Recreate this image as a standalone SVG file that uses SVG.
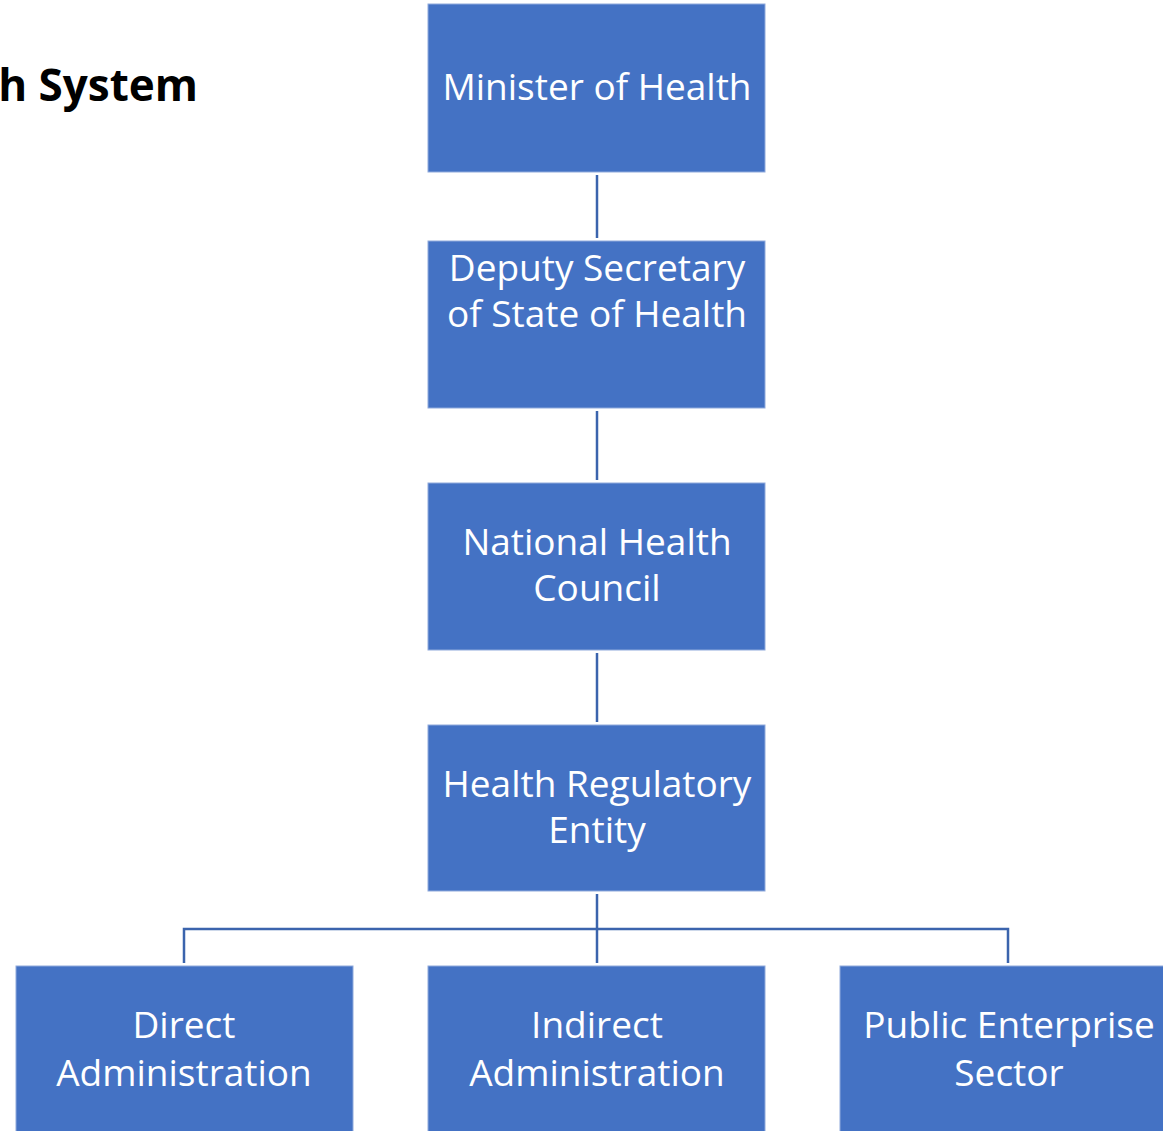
<svg xmlns="http://www.w3.org/2000/svg" width="1163" height="1131" viewBox="0 0 1163 1131">
<style>
.box{fill:#4472C4;stroke:#8FAADC;stroke-width:1}
.lbl{font-family:"Open Sans","Liberation Sans",sans-serif;font-size:37px;fill:#FFFFFF;text-anchor:middle}
.conn{fill:none;stroke:#3B64AD;stroke-width:2.5}
.title{font-family:"Open Sans","Liberation Sans",sans-serif;font-size:44px;font-weight:bold;fill:#000000;text-anchor:end}
</style>
<rect width="1163" height="1131" fill="#FFFFFF"/>
<text class="title" x="198" y="101">th System</text>
<g id="connectors">
<line class="conn" x1="597" y1="175" x2="597" y2="238"/>
<line class="conn" x1="597" y1="411" x2="597" y2="480"/>
<line class="conn" x1="597" y1="653" x2="597" y2="722"/>
<line class="conn" x1="597" y1="894" x2="597" y2="963"/>
<polyline class="conn" points="184,963 184,929 1008,929 1008,963"/>
</g>
<g id="minister">
<rect class="box" x="428" y="4" width="337" height="168"/>
<text class="lbl" x="597" y="100">Minister of Health</text>
</g>
<g id="deputy">
<rect class="box" x="428" y="241" width="337" height="167"/>
<text class="lbl" x="597" y="281">Deputy Secretary</text>
<text class="lbl" x="597" y="327">of State of Health</text>
</g>
<g id="council">
<rect class="box" x="428" y="483" width="337" height="167"/>
<text class="lbl" x="597" y="555">National Health</text>
<text class="lbl" x="597" y="601">Council</text>
</g>
<g id="regulatory">
<rect class="box" x="428" y="725" width="337" height="166"/>
<text class="lbl" x="597" y="797">Health Regulatory</text>
<text class="lbl" x="597" y="843">Entity</text>
</g>
<g id="direct">
<rect class="box" x="16" y="966" width="337" height="180"/>
<text class="lbl" x="184" y="1038">Direct</text>
<text class="lbl" x="184" y="1086">Administration</text>
</g>
<g id="indirect">
<rect class="box" x="428" y="966" width="337" height="180"/>
<text class="lbl" x="597" y="1038">Indirect</text>
<text class="lbl" x="597" y="1086">Administration</text>
</g>
<g id="public">
<rect class="box" x="840" y="966" width="337" height="180"/>
<text class="lbl" x="1009" y="1038">Public Enterprise</text>
<text class="lbl" x="1009" y="1086">Sector</text>
</g>
</svg>
